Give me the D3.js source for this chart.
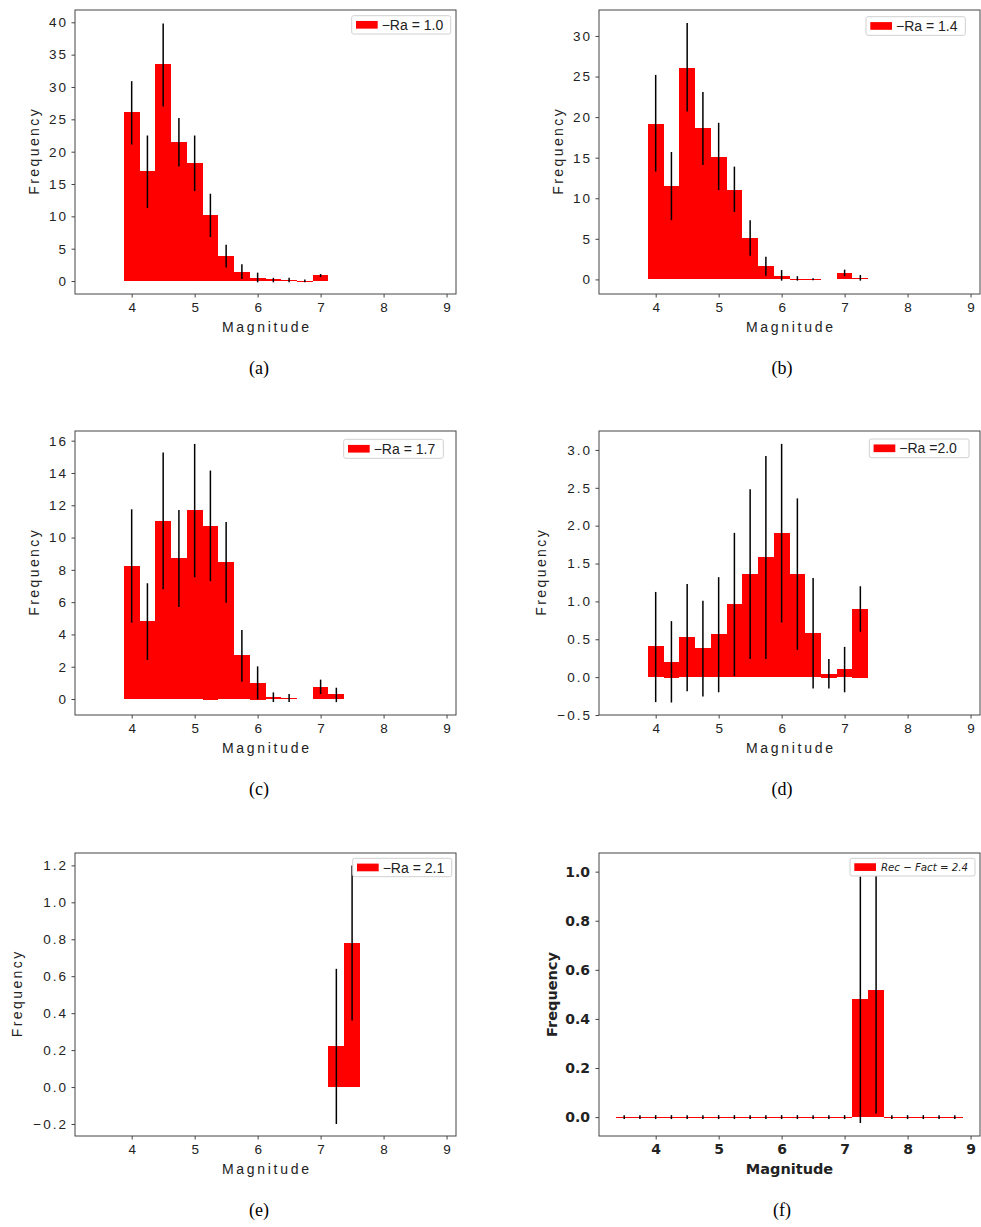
<!DOCTYPE html>
<html>
<head>
<meta charset="utf-8">
<script src="https://cdn.jsdelivr.net/npm/d3@7"></script>
<style>
  body { margin: 0; background: #fff; }
  svg { display: block; }
</style>
</head>
<body>
<svg id="fig" width="981" height="1227"></svg>
<script>
// shared x ticks
const xTicks = [4, 5, 6, 7, 8, 9];

// (a) -Ra = 1.0
const centersA = [4.0, 4.25, 4.5, 4.75, 5.0, 5.25, 5.5, 5.75, 6.0, 6.25, 6.5, 6.75, 7.0];
const freqA = [26.2, 17.0, 33.5, 21.5, 18.2, 10.2, 3.8, 1.45, 0.5, 0.25, 0.2, 0.05, 1.0];
const lowA = [21.1, 11.3, 27.0, 17.7, 13.9, 6.8, 2.1, 0.3, -0.2, -0.2, -0.2, -0.2, 0.6];
const highA = [30.9, 22.5, 39.8, 25.2, 22.5, 13.5, 5.6, 2.6, 1.3, 0.5, 0.5, 0.25, 1.1];
const yTicksA = [0, 5, 10, 15, 20, 25, 30, 35, 40];

// (b) -Ra = 1.4
const centersB = [4.0, 4.25, 4.5, 4.75, 5.0, 5.25, 5.5, 5.75, 6.0, 6.25, 6.5, 7.0, 7.25];
const freqB = [19.2, 11.5, 26.1, 18.6, 15.1, 11.0, 5.1, 1.65, 0.4, 0.1, 0.05, 0.8, 0.2];
const lowB = [13.3, 7.3, 20.7, 14.1, 11.0, 8.3, 2.9, 0.45, -0.15, -0.15, -0.1, 0.4, -0.15];
const highB = [25.2, 15.7, 31.6, 23.1, 19.3, 13.9, 7.3, 2.8, 1.15, 0.4, 0.15, 1.2, 0.55];
const yTicksB = [0, 5, 10, 15, 20, 25, 30];

// (c) -Ra = 1.7
const centersC = [4.0, 4.25, 4.5, 4.75, 5.0, 5.25, 5.5, 5.75, 6.0, 6.25, 6.5, 7.0, 7.25];
const freqC = [8.25, 4.83, 11.03, 8.74, 11.7, 10.72, 8.49, 2.73, 0.99, 0.12, 0.06, 0.74, 0.31];
const baseC = [0, 0, 0, 0, 0, -0.06, 0, 0, -0.04, 0, 0, 0, 0];
const lowC = [4.73, 2.42, 6.8, 5.7, 7.54, 7.3, 5.97, 1.07, -0.02, -0.19, -0.19, 0.31, -0.19];
const highC = [11.75, 7.17, 15.27, 11.7, 15.8, 14.15, 10.97, 4.28, 2.02, 0.41, 0.31, 1.2, 0.7];
const yTicksC = [0, 2, 4, 6, 8, 10, 12, 14, 16];

// (d) -Ra = 2.0
const centersD = [4.0, 4.25, 4.5, 4.75, 5.0, 5.25, 5.5, 5.75, 6.0, 6.25, 6.5, 6.75, 7.0, 7.25];
const freqD = [0.41, 0.2, 0.53, 0.38, 0.57, 0.97, 1.36, 1.59, 1.905, 1.36, 0.58, 0.04, 0.105, 0.9];
const baseD = [0, -0.013, 0, 0, 0, 0, 0, 0, 0, 0, 0, -0.01, 0, -0.01];
const lowD = [-0.33, -0.335, -0.185, -0.256, -0.2, 0.013, 0.24, 0.24, 0.72, 0.36, -0.15, -0.15, -0.2, 0.6];
const highD = [1.125, 0.74, 1.23, 1.01, 1.32, 1.905, 2.48, 2.92, 3.08, 2.36, 1.31, 0.24, 0.4, 1.2];
const yTicksD = [-0.5, 0.0, 0.5, 1.0, 1.5, 2.0, 2.5, 3.0];

// (e) -Ra = 2.1
const centersE = [7.25, 7.5];
const freqE = [0.22, 0.78];
const lowE = [-0.2, 0.36];
const highE = [0.64, 1.2];
const yTicksE = [-0.2, 0.0, 0.2, 0.4, 0.6, 0.8, 1.0, 1.2];

// (f) Rec - Fact = 2.4
const centersF = [3.5, 3.75, 4.0, 4.25, 4.5, 4.75, 5.0, 5.25, 5.5, 5.75, 6.0, 6.25,
                  6.5, 6.75, 7.0, 7.25, 7.5, 7.75, 8.0, 8.25, 8.5, 8.75];
const freqF = [0, 0, 0, 0, 0, 0, 0, 0, 0, 0, 0, 0, 0, 0, 0, 0.48, 0.517, 0, 0, 0, 0, 0];
const lowF = [-0.008, -0.008, -0.008, -0.008, -0.008, -0.008, -0.008, -0.008, -0.008, -0.008, -0.008,
              -0.008, -0.008, -0.008, -0.008, -0.024, 0.015, -0.008, -0.008, -0.008, -0.008, -0.008];
const highF = [0.008, 0.008, 0.008, 0.008, 0.008, 0.008, 0.008, 0.008, 0.008, 0.008, 0.008,
               0.008, 0.008, 0.008, 0.008, 0.98, 1.02, 0.008, 0.008, 0.008, 0.008, 0.008];
const yTicksF = [0.0, 0.2, 0.4, 0.6, 0.8, 1.0];

const BIN = 0.25;
const intFmt = d3.format("d");
const decFmt = d => (d < 0 ? "\u2212" : "") + Math.abs(d).toFixed(1);

const panels = [
    {id: "a", box: [75, 456, 10, 294], yDomain: [-2.0, 41.9], yTicks: yTicksA, fmt: intFmt,
     centers: centersA, freq: freqA, base: null, low: lowA, high: highA,
     legendText: "\u2212Ra = 1.0", legend: [351.7, 15.7, 450.7, 34], caption: [259, 374], ylabOff: 36},
    {id: "b", box: [599, 980, 10, 294], yDomain: [-1.8, 33.2], yTicks: yTicksB, fmt: intFmt,
     centers: centersB, freq: freqB, base: null, low: lowB, high: highB,
     legendText: "\u2212Ra = 1.4", legend: [866, 16.7, 965.3, 35.3], caption: [782, 374], ylabOff: 36},
    {id: "c", box: [75, 456, 431, 715], yDomain: [-0.99, 16.6], yTicks: yTicksC, fmt: intFmt,
     centers: centersC, freq: freqC, base: baseC, low: lowC, high: highC,
     legendText: "\u2212Ra = 1.7", legend: [343.7, 439.3, 443.3, 458.3], caption: [259, 795], ylabOff: 36},
    {id: "d", box: [599, 980, 431, 715], yDomain: [-0.5, 3.25], yTicks: yTicksD, fmt: decFmt,
     centers: centersD, freq: freqD, base: baseD, low: lowD, high: highD,
     legendText: "\u2212Ra =2.0", legend: [869.3, 439, 969, 457.7], caption: [782, 795], ylabOff: 53},
    {id: "e", box: [75, 456, 853, 1136], yDomain: [-0.265, 1.267], yTicks: yTicksE, fmt: decFmt,
     centers: centersE, freq: freqE, base: null, low: lowE, high: highE,
     legendText: "\u2212Ra = 2.1", legend: [352.7, 858.3, 451.7, 876.7], caption: [259, 1216], ylabOff: 53},
    {id: "f", box: [599, 980, 853, 1136], yDomain: [-0.077, 1.076], yTicks: yTicksF, fmt: decFmt,
     centers: centersF, freq: freqF, base: null, low: lowF, high: highF,
     legendText: "Rec \u2212 Fact = 2.4", legend: [850, 858.3, 975, 876], caption: [782, 1216], ylabOff: 42,
     bold: true}
];

const svg = d3.select("#fig");

function drawPanel(p) {
    const [left, right, top, bottom] = p.box;
    const x = d3.scaleLinear().domain([3.1, 9.15]).range([left, right]);
    const y = d3.scaleLinear().domain(p.yDomain).range([bottom, top]);
    const g = svg.append("g").attr("class", "panel-" + p.id);

    const tickFont = p.bold ? "DejaVu Sans" : "Liberation Sans";
    const tickSize = p.bold ? 14 : 13.5;
    const spacing = p.bold ? 0 : 2;

    g.append("clipPath").attr("id", "clip-" + p.id)
        .append("rect")
        .attr("x", left).attr("y", top)
        .attr("width", right - left).attr("height", bottom - top);

    const plot = g.append("g").attr("clip-path", "url(#clip-" + p.id + ")");

    // bars
    plot.selectAll("rect.bar")
        .data(p.centers)
        .enter()
        .append("rect")
        .attr("class", "bar")
        .attr("x", d => x(d - BIN / 2))
        .attr("width", d => x(d + BIN / 2) - x(d - BIN / 2))
        .attr("y", (d, i) => {
            const b = p.base ? p.base[i] : 0;
            return Math.min(y(p.freq[i]), y(b));
        })
        .attr("height", (d, i) => {
            const b = p.base ? p.base[i] : 0;
            return Math.max(1, Math.abs(y(b) - y(p.freq[i])));
        })
        .attr("fill", "#ff0000")
        .attr("shape-rendering", "crispEdges");

    // error bars
    plot.selectAll("line.err")
        .data(p.centers)
        .enter()
        .append("line")
        .attr("class", "err")
        .attr("x1", d => x(d)).attr("x2", d => x(d))
        .attr("y1", (d, i) => y(p.low[i]))
        .attr("y2", (d, i) => y(p.high[i]))
        .attr("stroke", "#000")
        .attr("stroke-width", 1.5);

    // y axis
    const yAxis = g.append("g")
        .attr("transform", "translate(" + left + ",0)")
        .call(d3.axisLeft(y).tickValues(p.yTicks).tickFormat(p.fmt).tickSize(3.5).tickPadding(5.5));
    // x axis
    const xAxis = g.append("g")
        .attr("transform", "translate(0," + bottom + ")")
        .call(d3.axisBottom(x).tickValues(xTicks).tickFormat(intFmt).tickSize(3.5).tickPadding(5));

    [yAxis, xAxis].forEach(ax => {
        ax.select(".domain").remove();
        ax.selectAll(".tick line").attr("stroke", "#444").attr("stroke-width", 1);
        ax.selectAll(".tick text")
            .attr("fill", "#222")
            .style("font-family", tickFont)
            .style("font-size", tickSize + "px")
            .style("font-weight", p.bold ? "bold" : "normal")
            .style("letter-spacing", spacing + "px");
    });
    yAxis.selectAll(".tick text").attr("dx", spacing);
    xAxis.selectAll(".tick text").attr("dx", spacing / 2);

    // frame
    g.append("rect")
        .attr("x", left).attr("y", top)
        .attr("width", right - left).attr("height", bottom - top)
        .attr("fill", "none")
        .attr("stroke", "#444")
        .attr("stroke-width", 1);

    // axis labels
    g.append("text")
        .attr("x", (left + right) / 2 + (p.bold ? 0 : 1.3))
        .attr("y", bottom + 37.5)
        .attr("text-anchor", "middle")
        .attr("fill", "#222")
        .style("font-family", p.bold ? "DejaVu Sans" : "Liberation Sans")
        .style("font-size", p.bold ? "14.5px" : "14px")
        .style("font-weight", p.bold ? "bold" : "normal")
        .style("letter-spacing", p.bold ? "0px" : "2.7px")
        .text("Magnitude");

    g.append("text")
        .attr("transform", "translate(" + (left - p.ylabOff) + "," + ((top + bottom) / 2 - (p.bold ? 0 : 1.2)) + ") rotate(-90)")
        .attr("text-anchor", "middle")
        .attr("fill", "#222")
        .style("font-family", p.bold ? "DejaVu Sans" : "Liberation Sans")
        .style("font-size", p.bold ? "14.5px" : "14px")
        .style("font-weight", p.bold ? "bold" : "normal")
        .style("letter-spacing", p.bold ? "0px" : "2.4px")
        .text("Frequency");

    // legend
    const [lx0, ly0, lx1, ly1] = p.legend;
    const lg = g.append("g");
    lg.append("rect")
        .attr("x", lx0).attr("y", ly0)
        .attr("width", lx1 - lx0).attr("height", ly1 - ly0)
        .attr("rx", 2)
        .attr("fill", "#fff")
        .attr("stroke", "#d0d0d0")
        .attr("stroke-width", 1);
    const cy = (ly0 + ly1) / 2;
    lg.append("rect")
        .attr("x", lx0 + 4.3).attr("y", cy - 3.9)
        .attr("width", 21.7).attr("height", 7.7)
        .attr("fill", "#ff0000");
    const lt = lg.append("text")
        .attr("x", lx0 + (p.bold ? 31 : 30))
        .attr("y", cy + (p.bold ? 4 : 5))
        .attr("fill", "#222")
        .style("font-family", p.bold ? "DejaVu Sans" : "Liberation Sans")
        .style("font-style", p.bold ? "italic" : "normal")
        .style("font-size", p.bold ? "11px" : "14px")
        .text(p.legendText);
    if (p.bold) lt.attr("textLength", 87).attr("lengthAdjust", "spacingAndGlyphs");

    // caption
    svg.append("text")
        .attr("x", p.caption[0])
        .attr("y", p.caption[1])
        .attr("text-anchor", "middle")
        .attr("fill", "#000")
        .style("font-family", "Liberation Serif")
        .style("font-size", "18px")
        .text("(" + p.id + ")");
}

panels.forEach(drawPanel);
</script>
</body>
</html>
